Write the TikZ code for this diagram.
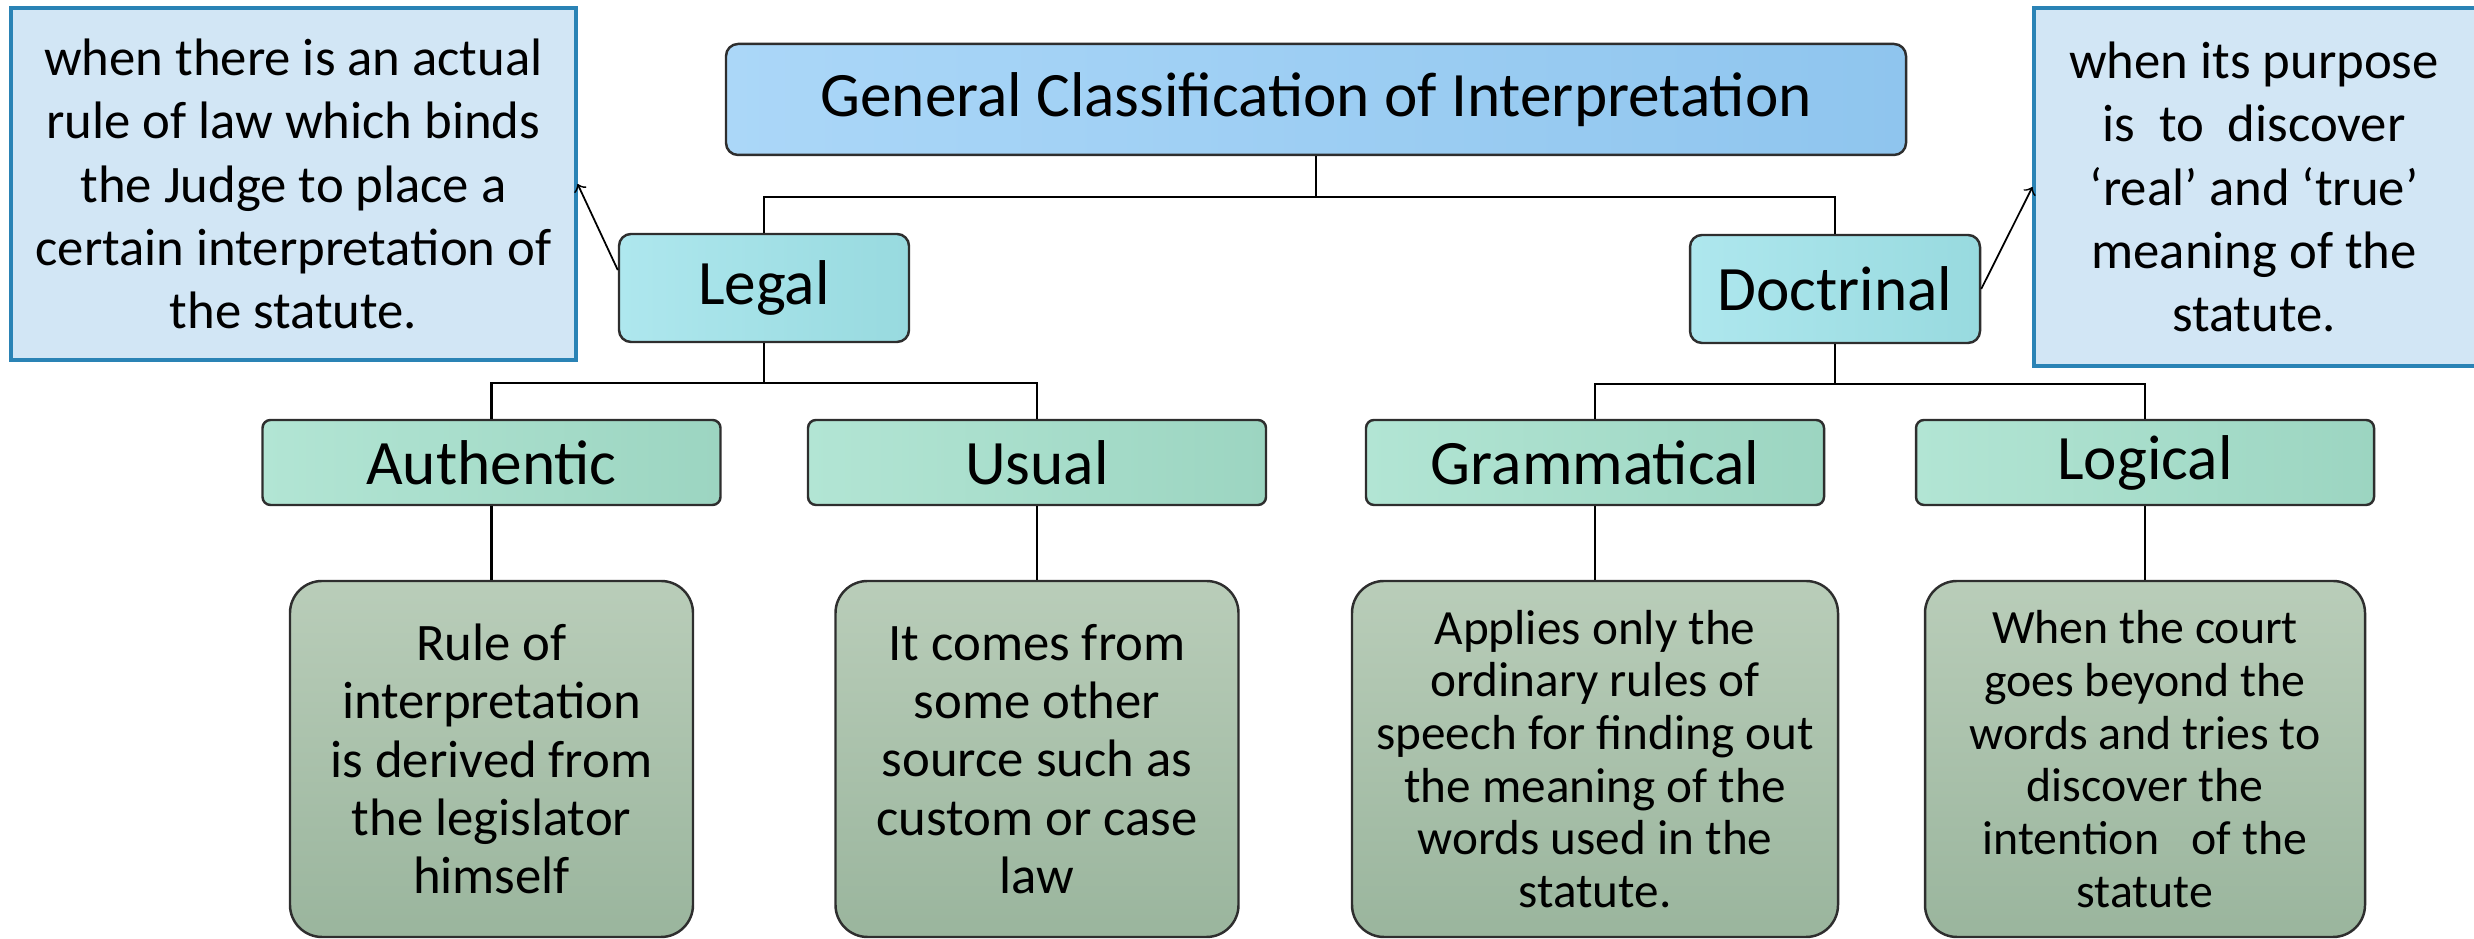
\documentclass[tikz,border=0pt]{standalone}
\usepackage{fontspec}
\setmainfont{Carlito}
\usepackage{tikz}

\definecolor{titleA}{HTML}{ABD7F8}
\definecolor{titleB}{HTML}{8FC5EE}
\definecolor{levelA}{HTML}{AEE7EE}
\definecolor{levelB}{HTML}{98DADF}
\definecolor{headA}{HTML}{B2E5D4}
\definecolor{headB}{HTML}{9CD5C1}
\definecolor{detailA}{HTML}{B9CDB9}
\definecolor{detailB}{HTML}{9AB59D}
\definecolor{noteFill}{HTML}{D2E6F5}
\definecolor{noteLine}{HTML}{2A83B5}
\definecolor{boxLine}{HTML}{2E2E2E}

\begin{document}
\begin{tikzpicture}[
    titlebox/.style={draw=boxLine, line width=0.7pt, rounded corners=0.12cm,
      left color=titleA, right color=titleB, font=\fontsize{18}{21}\selectfont,
      minimum width=11.8cm, minimum height=1.11cm, inner sep=0pt},
    levelbox/.style={draw=boxLine, line width=0.7pt, rounded corners=0.12cm,
      left color=levelA, right color=levelB, font=\fontsize{18}{21}\selectfont,
      minimum width=2.9cm, minimum height=1.08cm, inner sep=0pt},
    headbox/.style={draw=boxLine, line width=0.7pt, rounded corners=0.08cm,
      left color=headA, right color=headB, font=\fontsize{18}{21}\selectfont,
      minimum width=4.58cm, minimum height=0.85cm, inner sep=0pt},
    detailbox/.style={draw=boxLine, line width=0.7pt, rounded corners=0.32cm,
      shading=axis, shading angle=-60, top color=detailA, bottom color=detailB,
      align=center, minimum height=3.56cm, inner sep=0pt},
    notebox/.style={draw=noteLine, line width=0.9pt, fill=noteFill,
      align=center, font=\fontsize{15}{18}\selectfont, inner sep=0pt},
    link/.style={line width=0.7pt, black}
  ]
    \useasboundingbox (0,0) rectangle (24.74,9.39);

    % top of the tree
    \node[titlebox] (title) at (13.16,8.395) {General Classification of Interpretation};
    \node[levelbox] (legal) at (7.64,6.51) {Legal};
    \node[levelbox] (doctrinal) at (18.35,6.50) {Doctrinal};

    % side notes
    \node[notebox, minimum width=5.65cm, minimum height=3.52cm] (lnote) at (2.935,7.55)
      {when there is an actual\\rule of law which binds\\the Judge to place a\\certain interpretation of\\the statute.};
    \node[notebox, minimum width=4.70cm, minimum height=3.58cm] (rnote) at (22.69,7.52)
      {\hspace*{-0.30cm}\parbox{4.34cm}{\centering when its purpose\\is \ to \ discover\\‘real’ and ‘true’\\meaning of the\\statute.}};

    % kinds of interpretation
    \node[headbox] (authentic) at (4.915,4.765) {Authentic};
    \node[headbox] (usual) at (10.37,4.765) {Usual};
    \node[headbox] (grammatical) at (15.95,4.765) {Grammatical};
    \node[headbox] (logical) at (21.45,4.765) {Logical};

    % what each kind means
    \node[detailbox, minimum width=4.03cm, font=\fontsize{15}{16.6}\selectfont] (authdetail) at (4.915,1.80)
      {Rule of\\interpretation\\is derived from\\the legislator\\himself};
    \node[detailbox, minimum width=4.03cm, font=\fontsize{15}{16.6}\selectfont] (usualdetail) at (10.37,1.80)
      {It comes from\\some other\\source such as\\custom or case\\law};
    \node[detailbox, minimum width=4.86cm, font=\fontsize{14}{15}\selectfont] (gramdetail) at (15.95,1.80)
      {Applies only the\\ordinary rules of\\speech for finding out\\the meaning of the\\words used in the\\statute.};
    \node[detailbox, minimum width=4.40cm, font=\fontsize{13.6}{15}\selectfont] (logdetail) at (21.45,1.80)
      {When the court\\goes beyond the\\words and tries to\\discover the\\intention \ \ of the\\statute};

    % connectors
    \draw[link] (title.south) -- ++(0,-0.41) -| (legal.north);
    \draw[link] (title.south) -- ++(0,-0.41) -| (doctrinal.north);
    \draw[link] (legal.south) -- ++(0,-0.40) -| (authentic.north);
    \draw[link] (legal.south) -- ++(0,-0.40) -| (usual.north);
    \draw[link] (doctrinal.south) -- ++(0,-0.40) -| (grammatical.north);
    \draw[link] (doctrinal.south) -- ++(0,-0.40) -| (logical.north);
    \draw[link] (authentic.south) -- (authdetail.north);
    \draw[link] (usual.south) -- (usualdetail.north);
    \draw[link] (grammatical.south) -- (gramdetail.north);
    \draw[link] (logical.south) -- (logdetail.north);

    % arrows to the notes
    \draw[->, line width=0.5pt] (legal.173) -- (lnote.east);
    \draw[->, line width=0.5pt] (doctrinal.east) -- (rnote.west);
\end{tikzpicture}
\end{document}
